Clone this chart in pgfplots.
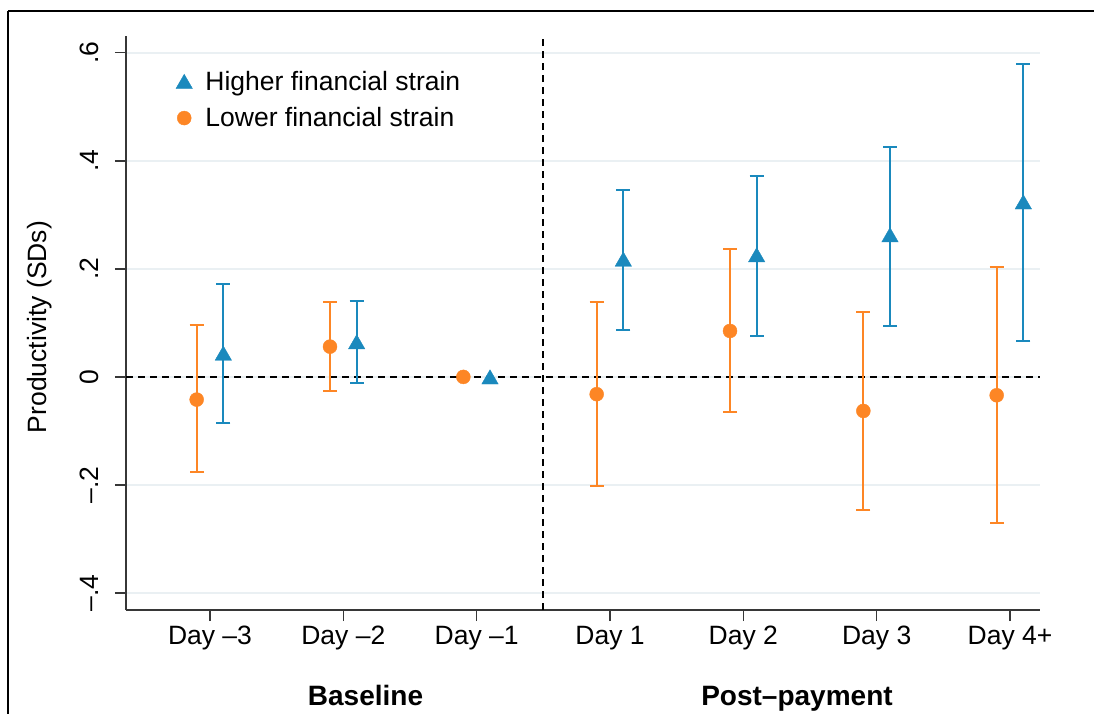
\documentclass[border=0pt]{standalone}
\usepackage{pgfplots}
\pgfplotsset{compat=1.18}
\usepackage{fontspec}
\setmainfont{Liberation Sans}
\definecolor{cblue}{RGB}{26,137,189}
\definecolor{corange}{RGB}{253,134,37}
\definecolor{gridc}{RGB}{234,240,243}
\definecolor{axc}{RGB}{55,55,55}
\newcommand{\lf}{\fontsize{26.5}{30}\selectfont}
\begin{document}
\begin{tikzpicture}[x=1pt,y=1pt]
\useasboundingbox (0,0) rectangle (1094,-713);
\draw[line width=2pt] (8,-11) -- (1120,-11);
\draw[line width=2pt] (8,-11) -- (8,-740);
\begin{axis}[
  at={(126pt,-36pt)}, anchor=north west,
  scale only axis, width=914pt, height=574pt,
  xmin=0.37, xmax=7.225, ymin=-0.4315, ymax=0.631,
  clip=false,
  axis x line*=bottom, axis y line*=left,
  axis line style={axc, line width=1.6pt, -},
  xtick={1,2,3,4,5,6,7},
  xticklabels={Day –3, Day –2, Day –1, Day 1, Day 2, Day 3, Day 4+},
  ytick={-0.4,-0.2,0,0.2,0.4,0.6},
  yticklabels={–.4,–.2,0,.2,.4,.6},
  tick align=outside, major tick length=11pt,
  tick style={axc, line width=1.4pt},
  ymajorgrids, grid style={gridc, line width=2pt},
  every tick label/.append style={font=\lf},
  xticklabel style={anchor=base, inner sep=0pt, yshift=-23pt},
  yticklabel style={xshift=-16pt, rotate=90, anchor=base, inner sep=0pt},
  legend style={draw=none, fill=none, at={(0.0547,0.939)}, anchor=north west,
    inner sep=0pt, outer sep=0pt, font=\lf, row sep=16pt, column sep=13pt,
    nodes={inner sep=0pt}},
  legend cell align=left,
  legend image code/.code={\draw[#1] plot coordinates {(0pt,0pt)};},
]
\addplot[forget plot, black, line width=2.3pt, dash pattern=on 7pt off 5pt] coordinates {(0.37,0) (7.225,0)};
\addplot[forget plot, black, line width=2.3pt, dash pattern=on 7pt off 5pt] coordinates {(3.5,-0.4315) (3.5,0.631)};

\addplot[forget plot, only marks, mark=*, corange, mark size=7pt,
  error bars/.cd, y dir=both, y explicit,
  error bar style={line width=2pt, corange},
  error mark options={corange, line width=2pt, mark size=7pt, rotate=90}]
  table[x=x, y=y, y error plus=ep, y error minus=em] {
x    y      ep     em
0.9  -0.042 0.138  0.134
1.9  0.056  0.083  0.083
3.9  -0.032 0.171  0.170
4.9  0.085  0.151  0.150
5.9  -0.063 0.183  0.183
6.9  -0.034 0.237  0.237
};
\addplot[forget plot, only marks, mark=triangle*, cblue, mark size=9.5pt,
  mark options={yshift=-2.4pt},
  error bars/.cd, y dir=both, y explicit,
  error bar style={line width=2pt, cblue},
  error mark options={cblue, line width=2pt, mark size=7pt, rotate=90}]
  table[x=x, y=y, y error plus=ep, y error minus=em] {
x    y      ep     em
1.1  0.044  0.128  0.130
2.1  0.065  0.076  0.077
4.1  0.218  0.128  0.131
5.1  0.226  0.146  0.150
6.1  0.263  0.163  0.169
7.1  0.324  0.255  0.258
};
\addplot[forget plot, only marks, mark=*, corange, mark size=7pt] coordinates {(2.9,0)};
\addplot[forget plot, only marks, mark=triangle*, cblue, mark size=9.5pt, mark options={yshift=-2.4pt}] coordinates {(3.1,0)};

\addlegendimage{only marks, mark=triangle*, cblue, mark size=9.5pt, mark options={yshift=-2.4pt}}
\addlegendentry{Higher financial strain}
\addlegendimage{only marks, mark=*, corange, mark size=7pt}
\addlegendentry{Lower financial strain}
\end{axis}
\node[rotate=90, anchor=base, font=\lf] at (46,-327) {Productivity (SDs)};
\node[anchor=base, font=\fontsize{28}{32}\selectfont\bfseries] at (365.5,-705) {Baseline};
\node[anchor=base, font=\fontsize{28}{32}\selectfont\bfseries] at (797,-705) {Post–payment};
\end{tikzpicture}
\end{document}
